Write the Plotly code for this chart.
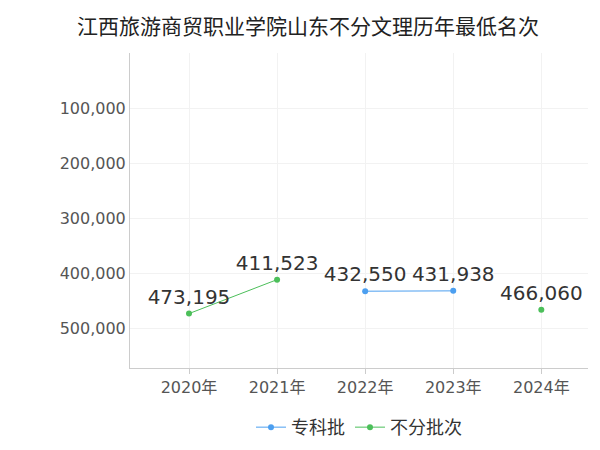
import plotly.graph_objects as go

years = ["2020年", "2021年", "2022年", "2023年", "2024年"]
zk_vals = [None, None, 432550, 431938, None]
bf_vals = [473195, 411523, None, None, 466060]

def labels(vals):
    return [f"{v:,}" if v is not None else "" for v in vals]

fig = go.Figure()
fig.add_trace(go.Scatter(
    x=years, y=zk_vals, name="专科批", mode="lines+markers+text",
    line=dict(color="#4c9ff0", width=1), marker=dict(size=6),
    text=labels(zk_vals), textposition="top center",
    textfont=dict(size=20, color="#333")))
fig.add_trace(go.Scatter(
    x=years, y=bf_vals, name="不分批次", mode="lines+markers+text",
    line=dict(color="#4cbf5a", width=1), marker=dict(size=6),
    text=labels(bf_vals), textposition="top center",
    textfont=dict(size=20, color="#333"), connectgaps=False))

fig.update_layout(
    width=600, height=450, plot_bgcolor="white", paper_bgcolor="white",
    font=dict(family="DejaVu Sans, Noto Sans CJK SC", color="#555"),
    title=dict(text="江西旅游商贸职业学院山东不分文理历年最低名次", x=0.5, y=0.975,
               font=dict(size=21, color="#222")),
    margin=dict(l=122, r=20, t=45, b=78),
    legend=dict(orientation="h", x=0.5, xanchor="center", y=-0.13,
                font=dict(size=18, color="#333")),
    xaxis=dict(categoryorder="array", categoryarray=years, range=[-0.67, 4.53],
               showline=True, linecolor="#ccc", ticks="outside", tickcolor="#ccc",
               showgrid=True, gridcolor="#f2f2f2", tickfont=dict(size=16)),
    yaxis=dict(range=[572000, 0], tickvals=[100000, 200000, 300000, 400000, 500000],
               tickformat=",", showline=True, linecolor="#ccc",
               showgrid=True, gridcolor="#f2f2f2", tickfont=dict(size=16), zeroline=False),
)
fig.write_html("out.html")
